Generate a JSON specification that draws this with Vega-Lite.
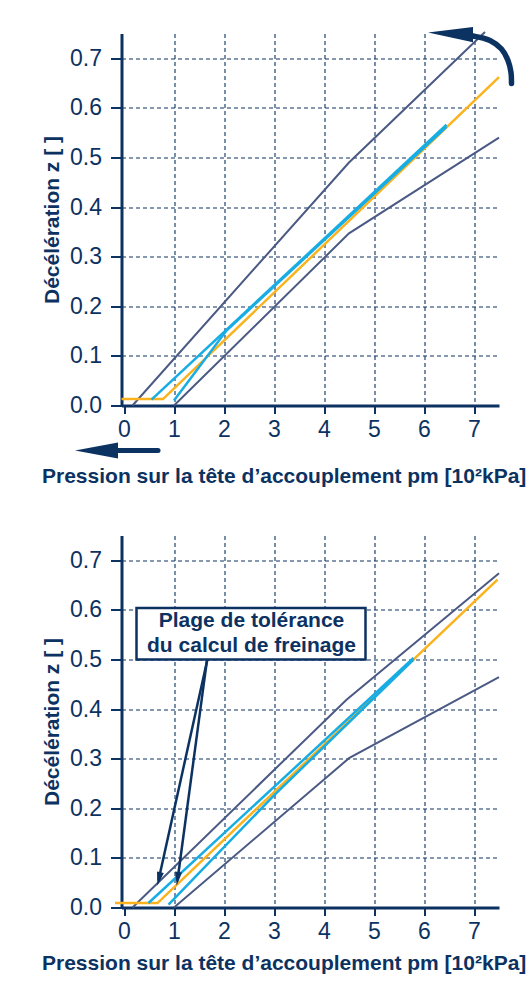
{
  "$schema": "https://vega.github.io/schema/vega-lite/v6.json",
  "background": "white",
  "padding": {"left": 40.5, "top": 24.5, "right": 0, "bottom": 0},
  "spacing": 49,
  "datasets": {
    "curves": [
      {"p": "A", "s": "upper", "x": 0.17, "z": 0},
      {"p": "A", "s": "upper", "x": 4.5, "z": 0.49},
      {"p": "A", "s": "upper", "x": 7.22, "z": 0.753},
      {"p": "A", "s": "lower", "x": 1.0, "z": 0},
      {"p": "A", "s": "lower", "x": 4.5, "z": 0.347},
      {"p": "A", "s": "lower", "x": 7.5, "z": 0.54},
      {"p": "A", "s": "orange", "x": -0.05, "z": 0.013},
      {"p": "A", "s": "orange", "x": 0.78, "z": 0.013},
      {"p": "A", "s": "orange", "x": 7.5, "z": 0.662},
      {"p": "A", "s": "cyan1", "x": 0.55, "z": 0.012},
      {"p": "A", "s": "cyan1", "x": 6.45, "z": 0.566},
      {"p": "A", "s": "cyan2", "x": 1.0, "z": 0.01},
      {"p": "A", "s": "cyan2", "x": 2.05, "z": 0.151},
      {"p": "A", "s": "cyan2", "x": 6.45, "z": 0.562},
      {"p": "B", "s": "upper", "x": 0.17, "z": 0},
      {"p": "B", "s": "upper", "x": 4.45, "z": 0.419},
      {"p": "B", "s": "upper", "x": 7.5, "z": 0.674},
      {"p": "B", "s": "lower", "x": 1.0, "z": 0},
      {"p": "B", "s": "lower", "x": 4.5, "z": 0.301},
      {"p": "B", "s": "lower", "x": 7.5, "z": 0.4645},
      {"p": "B", "s": "orange", "x": -0.18, "z": 0.009},
      {"p": "B", "s": "orange", "x": 0.67, "z": 0.009},
      {"p": "B", "s": "orange", "x": 7.47, "z": 0.661},
      {"p": "B", "s": "cyan1", "x": 0.49, "z": 0.009},
      {"p": "B", "s": "cyan1", "x": 5.79, "z": 0.503},
      {"p": "B", "s": "cyan2", "x": 0.89, "z": 0.006},
      {"p": "B", "s": "cyan2", "x": 3.0, "z": 0.226},
      {"p": "B", "s": "cyan2", "x": 5.79, "z": 0.5}
    ],
    "arc": [
      {"x": 6.98, "z": 0.745},
      {"x": 7.32, "z": 0.7359},
      {"x": 7.55, "z": 0.7188},
      {"x": 7.68, "z": 0.6956},
      {"x": 7.74, "z": 0.6714},
      {"x": 7.75, "z": 0.6492}
    ]
  },
  "vconcat": [
    {
      "width": 377.5,
      "height": 372,
      "encoding": {
        "x": {
          "field": "x", "type": "quantitative",
          "scale": {"domain": [-0.05, 7.5], "nice": false, "zero": false},
          "axis": {
            "values": [0, 1, 2, 3, 4, 5, 6, 7], "format": "d",
            "tickSize": 8, "labelPadding": 5, "labelFlush": false,
            "grid": true,
            "gridOpacity": {"condition": {"test": "datum.value === 0", "value": 0}, "value": 1},
            "title": "Pression sur la tête d’accouplement pm [10²kPa]",
            "titleX": -80, "titleY": 71, "titleAlign": "left", "titleAnchor": "start", "titleBaseline": "middle"
          }
        },
        "y": {
          "field": "z", "type": "quantitative",
          "scale": {"domain": [0, 0.75], "nice": false, "zero": false},
          "axis": {
            "values": [0, 0.1, 0.2, 0.3, 0.4, 0.5, 0.6, 0.7], "format": ".1f",
            "tickSize": 11, "labelPadding": 9, "grid": true,
            "title": "Décélération z [ ]",
            "titleX": -69.5, "titleY": 186, "titleAngle": -90, "titleAlign": "center", "titleBaseline": "middle"
          }
        }
      },
      "layer": [
        {
          "data": {"name": "curves"},
          "transform": [{"filter": "datum.p === 'A' && (datum.s === 'upper' || datum.s === 'lower')"}],
          "mark": {"type": "line", "color": "#4b5a84", "strokeWidth": 2},
          "encoding": {"detail": {"field": "s"}}
        },
        {
          "data": {"name": "curves"},
          "transform": [{"filter": "datum.p === 'A' && datum.s === 'orange'"}],
          "mark": {"type": "line", "color": "#fab31e", "strokeWidth": 2.5},
          "encoding": {"detail": {"field": "s"}}
        },
        {
          "data": {"name": "curves"},
          "transform": [{"filter": "datum.p === 'A' && (datum.s === 'cyan1' || datum.s === 'cyan2')"}],
          "mark": {"type": "line", "color": "#17ade4", "strokeWidth": 2.5},
          "encoding": {"detail": {"field": "s"}}
        },
        {
          "data": {"name": "arc"},
          "mark": {"type": "line", "color": "#0c3262", "strokeWidth": 5.5, "strokeCap": "round", "interpolate": "catmull-rom"},
          "encoding": {}
        },
        {
          "data": {"values": [{"x": 6.53, "z": 0.748}]},
          "mark": {"type": "point", "shape": "M-1,-0.09L1,-0.33L1,0.34Z", "size": 2025, "filled": true, "opacity": 1, "color": "#0c3262", "strokeWidth": 0}
        },
        {
          "data": {"values": [{"x": -0.18, "x2": 0.68, "z": -0.0907}]},
          "mark": {"type": "rule", "color": "#0c3262", "strokeWidth": 5, "strokeCap": "round"},
          "encoding": {"x2": {"field": "x2"}}
        },
        {
          "data": {"values": [{"x": -0.55, "z": -0.0907}]},
          "mark": {"type": "point", "shape": "M-1,0L1,-0.37L1,0.37Z", "size": 1849, "filled": true, "opacity": 1, "color": "#0c3262", "strokeWidth": 0}
        }
      ]
    },
    {
      "width": 377.5,
      "height": 372,
      "encoding": {
        "x": {
          "field": "x", "type": "quantitative",
          "scale": {"domain": [-0.05, 7.5], "nice": false, "zero": false},
          "axis": {
            "values": [0, 1, 2, 3, 4, 5, 6, 7], "format": "d",
            "tickSize": 8, "labelPadding": 5, "labelFlush": false,
            "grid": true,
            "gridOpacity": {"condition": {"test": "datum.value === 0", "value": 0}, "value": 1},
            "title": "Pression sur la tête d’accouplement pm [10²kPa]",
            "titleX": -80, "titleY": 56, "titleAlign": "left", "titleAnchor": "start", "titleBaseline": "middle"
          }
        },
        "y": {
          "field": "z", "type": "quantitative",
          "scale": {"domain": [0, 0.75], "nice": false, "zero": false},
          "axis": {
            "values": [0, 0.1, 0.2, 0.3, 0.4, 0.5, 0.6, 0.7], "format": ".1f",
            "tickSize": 11, "labelPadding": 9, "grid": true,
            "title": "Décélération z [ ]",
            "titleX": -69.5, "titleY": 186, "titleAngle": -90, "titleAlign": "center", "titleBaseline": "middle"
          }
        }
      },
      "layer": [
        {
          "data": {"name": "curves"},
          "transform": [{"filter": "datum.p === 'B' && (datum.s === 'upper' || datum.s === 'lower')"}],
          "mark": {"type": "line", "color": "#4b5a84", "strokeWidth": 2},
          "encoding": {"detail": {"field": "s"}}
        },
        {
          "data": {"name": "curves"},
          "transform": [{"filter": "datum.p === 'B' && datum.s === 'orange'"}],
          "mark": {"type": "line", "color": "#fab31e", "strokeWidth": 2.5},
          "encoding": {"detail": {"field": "s"}}
        },
        {
          "data": {"name": "curves"},
          "transform": [{"filter": "datum.p === 'B' && (datum.s === 'cyan1' || datum.s === 'cyan2')"}],
          "mark": {"type": "line", "color": "#17ade4", "strokeWidth": 2.5},
          "encoding": {"detail": {"field": "s"}}
        },
        {
          "data": {"values": [
            {"x": 1.667, "z": 0.4994, "x2": 0.69, "z2": 0.055},
            {"x": 1.66, "z": 0.4994, "x2": 1.07, "z2": 0.055}
          ]},
          "mark": {"type": "rule", "color": "#0c3262", "strokeWidth": 2.5},
          "encoding": {"x2": {"field": "x2"}, "y2": {"field": "z2"}}
        },
        {
          "data": {"values": [{"x": 0.698, "z": 0.0575}]},
          "mark": {"type": "point", "shape": "M-0.5,-1L0.5,-1L0,1Z", "size": 196, "angle": 12.5, "filled": true, "opacity": 1, "color": "#0c3262", "strokeWidth": 0}
        },
        {
          "data": {"values": [{"x": 1.072, "z": 0.0577}]},
          "mark": {"type": "point", "shape": "M-0.5,-1L0.5,-1L0,1Z", "size": 196, "angle": 7.7, "filled": true, "opacity": 1, "color": "#0c3262", "strokeWidth": 0}
        },
        {
          "data": {"values": [{"x": 0.25, "x2": 4.83, "z": 0.5, "z2": 0.604}]},
          "mark": {"type": "rect", "fill": "white", "stroke": "#0c3262", "strokeWidth": 2.5},
          "encoding": {"x2": {"field": "x2"}, "y2": {"field": "z2"}}
        },
        {
          "data": {"values": [{"x": 2.55, "z": 0.578, "label": "Plage de tolérance\ndu calcul de freinage"}]},
          "mark": {"type": "text", "lineBreak": "\n", "fontSize": 21, "fontWeight": "bold", "lineHeight": 25, "align": "center", "baseline": "middle", "color": "#0c3262"},
          "encoding": {"text": {"field": "label"}}
        }
      ]
    }
  ],
  "config": {
    "view": {"stroke": null},
    "font": "Liberation Sans",
    "axis": {
      "domainColor": "#0c3262", "domainWidth": 3,
      "tickColor": "#0c3262", "tickWidth": 2,
      "labelColor": "#0c3262", "labelFont": "Liberation Sans", "labelFontSize": 23,
      "titleColor": "#0c3262", "titleFont": "Liberation Sans", "titleFontSize": 21, "titleFontWeight": "bold",
      "gridColor": "#0c3262", "gridDash": [4, 3], "gridWidth": 1.1
    }
  }
}
